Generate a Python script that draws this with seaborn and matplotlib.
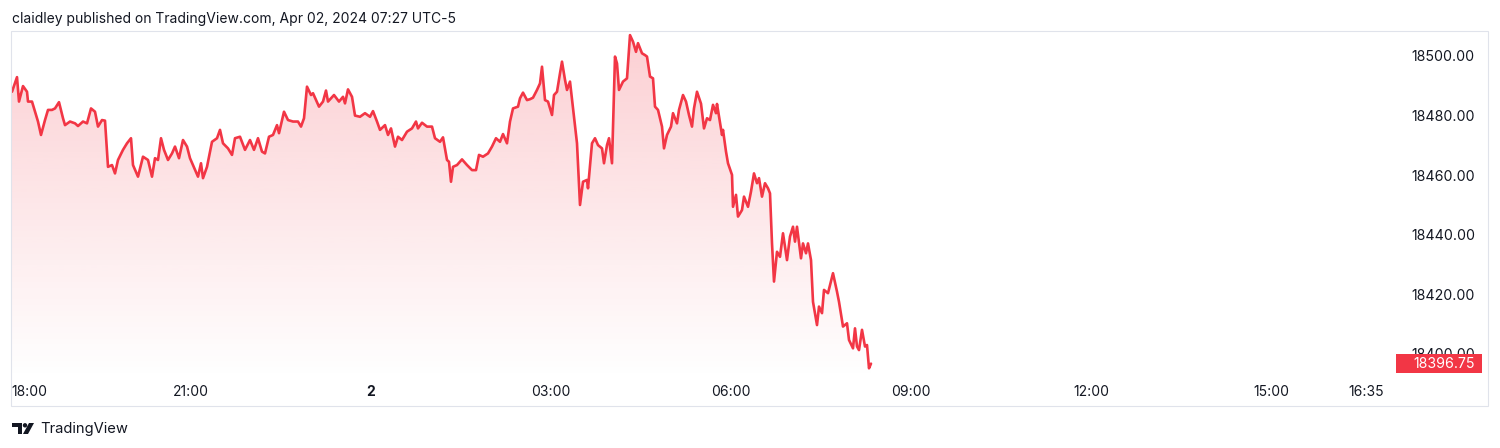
import numpy as np
import pandas as pd
import matplotlib
matplotlib.use("Agg")
import matplotlib.pyplot as plt
import matplotlib.transforms as mtransforms
from matplotlib.patches import Rectangle, Polygon, Circle
import seaborn as sns

# --- Data: minutes after 18:00 (Apr 01) and price ---
minutes = [
    1, 6, 8, 12, 16, 17, 21, 24, 27, 30, 34, 37, 41, 44, 48, 52, 54, 59, 64, 67,
    72, 76, 80, 84, 87, 91, 94, 97, 101, 104, 107, 112, 116, 120, 122, 127, 132, 137, 141, 144,
    147, 150, 153, 157, 161, 164, 168, 172, 176, 179, 182, 187, 190, 192, 196, 201, 206, 209, 212, 217,
    221, 224, 229, 234, 239, 243, 247, 251, 254, 258, 262, 266, 268, 273, 277, 282, 287, 290, 293, 296,
    300, 302, 308, 312, 315, 317, 323, 328, 332, 334, 337, 341, 344, 349, 354, 359, 362, 366, 369, 374,
    377, 380, 384, 387, 391, 396, 401, 405, 407, 411, 416, 421, 424, 429, 432, 436, 438, 440, 442, 446,
    451, 456, 461, 465, 468, 472, 477, 481, 485, 489, 492, 496, 499, 502, 507, 509, 512, 516, 519, 522,
    526, 529, 531, 534, 537, 541, 543, 546, 549, 551, 554, 556, 559, 562, 566, 569, 572, 576, 577, 581,
    584, 587, 591, 593, 596, 598, 601, 604, 606, 608, 612, 616, 619, 622, 625, 627, 631, 634, 636, 639,
    642, 644, 647, 651, 653, 656, 660, 662, 666, 668, 672, 675, 678, 681, 683, 686, 690, 693, 696, 699,
    702, 705, 706, 711, 712, 715, 717, 721, 722, 725, 727, 731, 733, 737, 740, 743, 746, 748, 751, 754,
    757, 759, 761, 763, 766, 769, 772, 776, 779, 782, 784, 786, 790, 792, 795, 797, 800, 802, 806, 808,
    811, 813, 817, 822, 826, 828, 832, 836, 838, 842, 844, 846, 848, 851, 854, 856, 858, 860,
]
prices = [
    18488.0, 18492.9, 18484.7, 18489.9, 18488.0, 18484.7, 18484.7, 18481.3, 18478.0, 18473.5,
    18478.5, 18481.9, 18481.9, 18482.4, 18484.5, 18479.1, 18476.8, 18478.0, 18477.4, 18476.5,
    18478.0, 18477.4, 18482.4, 18481.3, 18476.3, 18478.5, 18478.3, 18462.8, 18463.4, 18460.6,
    18465.1, 18468.5, 18470.7, 18472.4, 18463.4, 18459.5, 18466.2, 18465.1, 18459.5, 18465.7,
    18465.1, 18472.4, 18468.5, 18465.1, 18467.3, 18469.6, 18465.7, 18471.8, 18469.6, 18465.7,
    18463.4, 18459.5, 18464.0, 18459.0, 18462.8, 18471.2, 18472.4, 18475.2, 18470.7, 18469.0,
    18466.8, 18472.4, 18472.9, 18468.5, 18471.8, 18468.5, 18472.4, 18467.9, 18467.3, 18472.9,
    18473.5, 18476.8, 18474.1, 18481.3, 18478.5, 18478.0, 18478.0, 18476.3, 18479.1, 18489.7,
    18486.9, 18487.5, 18483.0, 18484.7, 18488.4, 18484.7, 18486.9, 18484.7, 18486.3, 18484.1,
    18488.8, 18486.3, 18480.0, 18479.6, 18480.8, 18479.6, 18481.5, 18478.0, 18475.2, 18476.8,
    18473.5, 18475.7, 18469.6, 18472.9, 18471.8, 18474.6, 18475.7, 18478.0, 18475.7, 18477.6,
    18476.3, 18476.3, 18472.4, 18471.2, 18472.7, 18465.1, 18464.5, 18457.8, 18462.8, 18463.4,
    18465.3, 18463.4, 18461.7, 18461.7, 18466.8, 18466.2, 18467.3, 18469.6, 18472.4, 18471.2,
    18473.8, 18470.7, 18478.0, 18482.4, 18483.0, 18485.8, 18487.7, 18485.2, 18485.5, 18486.0,
    18488.6, 18490.8, 18496.4, 18485.2, 18484.7, 18480.2, 18486.9, 18488.0, 18494.2, 18498.1,
    18492.0, 18488.6, 18491.4, 18482.4, 18470.7, 18450.0, 18457.8, 18458.4, 18455.6, 18470.7,
    18472.4, 18470.1, 18469.0, 18464.0, 18470.1, 18472.4, 18464.0, 18499.8, 18497.5, 18488.6,
    18491.4, 18492.5, 18507.0, 18504.8, 18501.4, 18504.3, 18500.9, 18500.3, 18499.8, 18493.1,
    18492.5, 18483.0, 18481.9, 18476.3, 18469.0, 18473.5, 18476.3, 18480.8, 18477.4, 18481.9,
    18486.9, 18484.7, 18480.2, 18476.3, 18482.4, 18488.0, 18484.0, 18475.7, 18479.1, 18478.5,
    18483.6, 18480.8, 18483.9, 18473.5, 18475.2, 18467.9, 18464.0, 18460.1, 18449.4, 18453.4,
    18446.1, 18448.3, 18452.8, 18449.4, 18454.5, 18460.6, 18457.3, 18459.0, 18452.8, 18457.3,
    18455.6, 18453.9, 18437.1, 18424.3, 18434.3, 18432.6, 18440.5, 18431.5, 18439.4, 18442.7,
    18437.7, 18442.7, 18432.1, 18437.1, 18433.8, 18437.1, 18431.5, 18417.5, 18409.7, 18415.9,
    18413.7, 18421.5, 18420.4, 18427.1, 18420.9, 18417.5, 18409.2, 18410.3, 18404.7, 18401.9,
    18408.6, 18402.5, 18401.3, 18408.1, 18402.5, 18403.0, 18395.2, 18396.75,
]
last_price = 18396.75

price_ticks = [18400, 18420, 18440, 18460, 18480, 18500]
time_ticks = [0, 180, 360, 540, 720, 900, 1080, 1260, 1355]
time_labels = ["18:00", "21:00", "2", "03:00", "06:00", "09:00", "12:00", "15:00", "16:35"]

header = "claidley published on TradingView.com, Apr 02, 2024 07:27 UTC-5"

RED = "#F23645"
TEXT = "#131722"
BORDER = "#E0E3EB"

sns.set_theme(style="white")
plt.rcParams["font.family"] = ["Inter", "DejaVu Sans"]

W, H = 1500, 448
fig = plt.figure(figsize=(W / 100, H / 100), dpi=100)
fig.patch.set_facecolor("white")

# pixel -> figure transform (origin top-left)
px = mtransforms.Affine2D().scale(1 / W, -1 / H).translate(0, 1) + fig.transFigure

ax_left, ax_right, ax_top, ax_bottom = 11, 1392, 32, 379
ax = fig.add_axes([ax_left / W, 1 - ax_bottom / H,
                   (ax_right - ax_left) / W, (ax_bottom - ax_top) / H])
ax.set_facecolor("none")

df = pd.DataFrame({"minute": minutes, "price": prices})

xmin, xmax = 0, 1381
ymin, ymax = 18391.6, 18508.05

# line
sns.lineplot(data=df, x="minute", y="price", color=RED, linewidth=1.9, ax=ax, zorder=3)

# gradient area under the line
fill = ax.fill_between(df["minute"], df["price"], ymin, facecolor="none", edgecolor="none")
grad = np.zeros((256, 1, 4))
grad[:, 0, 0] = 242 / 255
grad[:, 0, 1] = 54 / 255
grad[:, 0, 2] = 69 / 255
grad[:, 0, 3] = np.linspace(0.24, 0.0, 256)
img = ax.imshow(grad, extent=[xmin, xmax, ymin, ymax], aspect="auto",
                origin="upper", zorder=1, interpolation="bilinear")
img.set_clip_path(fill.get_paths()[0], ax.transData)

ax.set_xlim(xmin, xmax)
ax.set_ylim(ymin, ymax)
ax.set_xlabel("")
ax.set_ylabel("")
for s in ax.spines.values():
    s.set_visible(False)
ax.grid(False)

# price axis on the right
ax.yaxis.tick_right()
ax.set_yticks(price_ticks)
ax.set_yticklabels([f"{v:.2f}" for v in price_ticks])
ax.tick_params(axis="y", length=0, pad=(1475 - ax_right) * 0.72, labelsize=10.2, labelcolor=TEXT)
for lab in ax.get_yticklabels():
    lab.set_horizontalalignment("right")

# time axis
ax.set_xticks(time_ticks)
ax.set_xticklabels(time_labels)
ax.tick_params(axis="x", length=0, pad=4.0, labelsize=10.0, labelcolor=TEXT)
xl = ax.get_xticklabels()
xl[0].set_horizontalalignment("left")
xl[2].set_fontweight("bold")

# last price marker
bt = mtransforms.blended_transform_factory(ax.transAxes, ax.transData)
fx = lambda p: (p - ax_left) / (ax_right - ax_left)
ax.add_patch(Rectangle((fx(1396), last_price - 3.2), fx(1482) - fx(1396), 6.4,
                       transform=bt, facecolor=RED, edgecolor="none",
                       clip_on=False, zorder=5))
ax.text(fx(1475), last_price, f"{last_price:.2f}", transform=bt, ha="right",
        va="center", color="white", fontsize=10.2, zorder=6, clip_on=False)

# outer frame
fig.add_artist(Rectangle((11, 31), 1477, 375, transform=px, facecolor="none",
                         edgecolor=BORDER, linewidth=0.8))

# header
fig.text(12 / W, 1 - 19 / H, header, ha="left", va="center", fontsize=10.0, color=TEXT)

# footer logo + name
fig.add_artist(Polygon([(12, 423), (22, 423), (22, 434), (18, 434), (18, 427), (12, 427)],
                       closed=True, transform=px, facecolor=TEXT, edgecolor="none"))
fig.add_artist(Circle((25, 425.3), 2.2, transform=px, facecolor=TEXT, edgecolor="none"))
fig.add_artist(Polygon([(29, 423), (34, 423), (28, 434), (23, 434)],
                       closed=True, transform=px, facecolor=TEXT, edgecolor="none"))
fig.text(40 / W, 1 - 428.5 / H, "TradingView", ha="left", va="center", fontsize=10.6, color=TEXT)

fig.savefig("out.png", dpi=100, facecolor="white")
